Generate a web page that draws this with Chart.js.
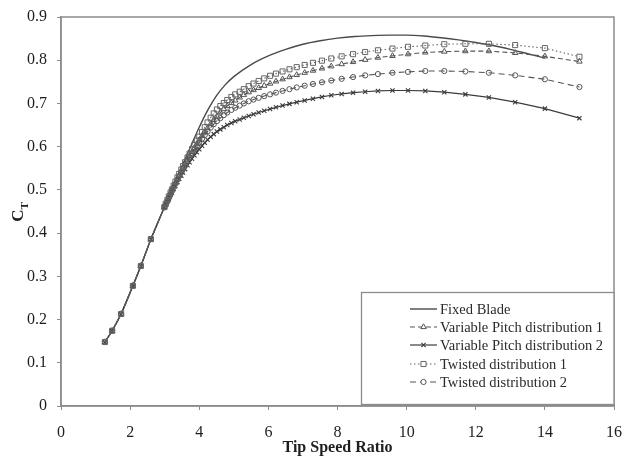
<!DOCTYPE html>
<html>
<head>
<meta charset="utf-8">
<script src="https://cdn.jsdelivr.net/npm/chart.js@4.4.1/dist/chart.umd.min.js"></script>
<style>
  html, body { margin: 0; padding: 0; background: #fff; }
  #wrap { position: relative; width: 627px; height: 456px; }
</style>
</head>
<body>
<div id="wrap"><canvas id="ctChart" width="627" height="456"></canvas></div>
<script>
// ===== DATA =====
// low tip speed ratios: every blade gives the same thrust there
const lowTsr = [1.27, 1.48, 1.74, 2.08, 2.31, 2.60, 2.99];
const lowCt = [0.148, 0.174, 0.213, 0.278, 0.324, 0.386, 0.460];

// fixed blade (plain line, no markers)
const fixedTsr = [3.25, 3.5, 3.75, 4.0, 4.25, 4.5, 4.75, 5.0, 5.5, 6.0, 6.5, 7.0, 7.5, 8.0,
  8.5, 9.0, 9.5, 10.0, 10.5, 11.0, 11.5, 12.0, 12.5, 13.0, 13.5, 14.0];
const fixedCt = [0.510, 0.555, 0.600, 0.645, 0.685, 0.718, 0.743, 0.762, 0.790, 0.810, 0.825,
  0.837, 0.845, 0.851, 0.855, 0.857, 0.858, 0.858, 0.856, 0.852, 0.847, 0.841, 0.834, 0.825,
  0.815, 0.805];

// tip speed ratios of the marked points above 3
const tsr = [3.03, 3.08, 3.12, 3.17, 3.21, 3.26, 3.31, 3.37, 3.42, 3.48, 3.53, 3.59, 3.66, 3.72,
  3.79, 3.86, 3.93, 4.00, 4.08, 4.16, 4.24, 4.33, 4.42, 4.51, 4.61, 4.71, 4.81, 4.93, 5.04,
  5.17, 5.29, 5.43, 5.57, 5.72, 5.88, 6.05, 6.22, 6.41, 6.61, 6.82, 7.05, 7.29, 7.55, 7.82,
  8.12, 8.45, 8.80, 9.17, 9.59, 10.04, 10.54, 11.09, 11.70, 12.38, 13.14, 14.00, 15.00];

const ctVarPitch1 = [0.467, 0.476, 0.483, 0.492, 0.499, 0.508, 0.516, 0.526, 0.534, 0.543,
  0.551, 0.560, 0.570, 0.578, 0.588, 0.597, 0.606, 0.615, 0.625, 0.634, 0.643, 0.653, 0.662,
  0.670, 0.679, 0.687, 0.694, 0.701, 0.707, 0.714, 0.720, 0.726, 0.731, 0.736, 0.741, 0.746,
  0.751, 0.756, 0.761, 0.766, 0.771, 0.776, 0.781, 0.786, 0.791, 0.796, 0.801, 0.806, 0.810,
  0.814, 0.818, 0.820, 0.821, 0.821, 0.817, 0.809, 0.797];

const ctVarPitch2 = [0.465, 0.473, 0.480, 0.488, 0.494, 0.502, 0.509, 0.518, 0.525, 0.533,
  0.540, 0.548, 0.557, 0.564, 0.572, 0.580, 0.587, 0.594, 0.602, 0.609, 0.616, 0.623, 0.629,
  0.635, 0.640, 0.645, 0.650, 0.655, 0.659, 0.663, 0.667, 0.671, 0.675, 0.679, 0.683, 0.687,
  0.691, 0.695, 0.699, 0.703, 0.707, 0.711, 0.715, 0.719, 0.722, 0.725, 0.727, 0.729, 0.730,
  0.730, 0.729, 0.726, 0.721, 0.714, 0.703, 0.688, 0.666];

const ctTwisted1 = [0.468, 0.477, 0.485, 0.494, 0.501, 0.510, 0.519, 0.529, 0.537, 0.547,
  0.555, 0.564, 0.575, 0.584, 0.594, 0.604, 0.614, 0.623, 0.634, 0.645, 0.656, 0.667, 0.677,
  0.686, 0.694, 0.701, 0.708, 0.715, 0.721, 0.727, 0.733, 0.740, 0.746, 0.752, 0.758, 0.764,
  0.769, 0.774, 0.779, 0.784, 0.789, 0.794, 0.799, 0.804, 0.809, 0.814, 0.819, 0.823, 0.827,
  0.831, 0.834, 0.837, 0.838, 0.838, 0.835, 0.828, 0.808];

const ctTwisted2 = [0.466, 0.475, 0.482, 0.491, 0.498, 0.506, 0.514, 0.524, 0.532, 0.541,
  0.549, 0.557, 0.567, 0.575, 0.584, 0.593, 0.601, 0.609, 0.618, 0.627, 0.635, 0.644, 0.652,
  0.659, 0.666, 0.673, 0.679, 0.685, 0.690, 0.695, 0.700, 0.705, 0.709, 0.713, 0.717, 0.721,
  0.725, 0.729, 0.733, 0.737, 0.741, 0.745, 0.749, 0.753, 0.757, 0.761, 0.765, 0.768, 0.771,
  0.773, 0.775, 0.775, 0.774, 0.771, 0.765, 0.756, 0.738];

const xTicks = [0, 2, 4, 6, 8, 10, 12, 14, 16];
const yTicks = [0, 0.1, 0.2, 0.3, 0.4, 0.5, 0.6, 0.7, 0.8, 0.9];

const serif = "'Liberation Serif', 'Times New Roman', serif";

function toPoints(xs, ys) {
  return xs.map((x, i) => ({ x: x, y: ys[i] }));
}

function withLow(ys) {
  return toPoints(lowTsr.concat(tsr), lowCt.concat(ys));
}

// ===== PLUGIN: frame, axis titles, boxed legend =====
const framePlugin = {
  id: 'frameLegend',
  afterDatasetsDraw(chart) {
    const { ctx, chartArea: a } = chart;
    ctx.save();

    // frame round the plot
    ctx.setLineDash([]);
    ctx.strokeStyle = '#8c8c8c';
    ctx.lineWidth = 1.5;
    ctx.strokeRect(a.left, a.top, a.right - a.left, a.bottom - a.top);

    // x title
    ctx.fillStyle = '#1e1e1e';
    ctx.font = 'bold 16px ' + serif;
    ctx.textAlign = 'center';
    ctx.textBaseline = 'middle';
    ctx.fillText('Tip Speed Ratio', (a.left + a.right) / 2, 448);

    // y title C with subscript T
    ctx.save();
    ctx.translate(19, 212);
    ctx.rotate(-Math.PI / 2);
    ctx.font = 'bold 17px ' + serif;
    const cw = ctx.measureText('C').width;
    ctx.font = 'bold 11px ' + serif;
    const tw = ctx.measureText('T').width;
    const x0 = -(cw + tw) / 2;
    ctx.textAlign = 'left';
    ctx.font = 'bold 17px ' + serif;
    ctx.fillText('C', x0, 0);
    ctx.font = 'bold 11px ' + serif;
    ctx.fillText('T', x0 + cw, 6);
    ctx.restore();

    // legend box
    const box = { left: 361, top: 292, right: a.right, bottom: 404 };
    ctx.fillStyle = '#fff';
    ctx.fillRect(box.left, box.top, box.right - box.left, box.bottom - box.top);
    ctx.strokeStyle = '#8c8c8c';
    ctx.lineWidth = 1.3;
    ctx.strokeRect(box.left + 0.5, box.top + 0.5, box.right - box.left - 0.5, box.bottom - box.top);

    const rowY = [309, 327, 345, 364, 382];
    chart.data.datasets.forEach((ds, i) => {
      const y = rowY[i];
      ctx.strokeStyle = ds.borderColor;
      ctx.lineWidth = ds.borderWidth;
      ctx.setLineDash(ds.borderDash || []);
      ctx.beginPath();
      ctx.moveTo(410, y);
      ctx.lineTo(437, y);
      ctx.stroke();
      ctx.setLineDash([]);
      if (ds.pointRadius > 0 && Chart.helpers && Chart.helpers.drawPoint) {
        ctx.fillStyle = '#fff';
        ctx.strokeStyle = ds.pointBorderColor;
        ctx.lineWidth = ds.pointBorderWidth;
        Chart.helpers.drawPoint(ctx, {
          pointStyle: ds.pointStyle,
          radius: ds.pointRadius,
          rotation: 0,
          borderWidth: ds.pointBorderWidth
        }, 423.5, y);
      }
      ctx.fillStyle = '#2a2a2a';
      ctx.font = '14.5px ' + serif;
      ctx.textAlign = 'left';
      ctx.textBaseline = 'middle';
      ctx.fillText(ds.label, 440, y + 1);
    });

    ctx.restore();
  }
};

// ===== CHART =====
const ctx = document.getElementById('ctChart').getContext('2d');

new Chart(ctx, {
  type: 'line',
  data: {
    datasets: [
      {
        label: 'Fixed Blade',
        data: toPoints(lowTsr.concat(fixedTsr), lowCt.concat(fixedCt)),
        borderColor: '#4a4a4a',
        borderWidth: 1.4,
        pointRadius: 0,
        cubicInterpolationMode: 'monotone',
        order: 5
      },
      {
        label: 'Variable Pitch distribution 1',
        data: withLow(ctVarPitch1),
        borderColor: '#555',
        borderWidth: 1.1,
        borderDash: [5, 3],
        pointStyle: 'triangle',
        pointRadius: 3.2,
        pointBorderWidth: 1,
        pointBorderColor: '#555',
        pointBackgroundColor: 'rgba(255,255,255,0)',
        order: 2
      },
      {
        label: 'Variable Pitch distribution 2',
        data: withLow(ctVarPitch2),
        borderColor: '#3c3c3c',
        borderWidth: 1.2,
        pointStyle: 'crossRot',
        pointRadius: 3,
        pointBorderWidth: 1.1,
        pointBorderColor: '#3c3c3c',
        pointBackgroundColor: 'rgba(255,255,255,0)',
        order: 4
      },
      {
        label: 'Twisted distribution 1',
        data: withLow(ctTwisted1),
        borderColor: '#666',
        borderWidth: 1.1,
        borderDash: [1.5, 2.5],
        pointStyle: 'rect',
        pointRadius: 3.6,
        pointBorderWidth: 1,
        pointBorderColor: '#666',
        pointBackgroundColor: 'rgba(255,255,255,0)',
        order: 1
      },
      {
        label: 'Twisted distribution 2',
        data: withLow(ctTwisted2),
        borderColor: '#555',
        borderWidth: 1.1,
        borderDash: [6, 4],
        pointStyle: 'circle',
        pointRadius: 2.6,
        pointBorderWidth: 1,
        pointBorderColor: '#555',
        pointBackgroundColor: 'rgba(255,255,255,0)',
        order: 3
      }
    ]
  },
  options: {
    responsive: false,
    animation: false,
    devicePixelRatio: 1,
    layout: { padding: { top: 17, right: 13, left: 0, bottom: 0 } },
    plugins: {
      legend: { display: false },
      tooltip: { enabled: false }
    },
    scales: {
      x: {
        type: 'linear',
        min: 0,
        max: 16,
        afterFit: (s) => {
          s.height = 50;
          s.paddingLeft = 0;
          s.paddingRight = 0;
        },
        afterBuildTicks: (s) => { s.ticks = xTicks.map(v => ({ value: v })); },
        ticks: {
          color: '#1e1e1e',
          font: { family: serif, size: 16 },
          padding: 13,
          maxRotation: 0
        },
        grid: { drawOnChartArea: false, drawTicks: true, tickLength: 4, color: '#8c8c8c' },
        border: { color: '#8c8c8c', width: 1.5 }
      },
      y: {
        type: 'linear',
        min: 0,
        max: 0.9,
        afterFit: (s) => {
          s.width = 61;
          s.paddingTop = 0;
          s.paddingBottom = 0;
        },
        afterBuildTicks: (s) => { s.ticks = yTicks.map(v => ({ value: v })); },
        ticks: {
          color: '#1e1e1e',
          font: { family: serif, size: 16 },
          padding: 10,
          callback: (v) => (v === 0 ? '0' : v.toFixed(1))
        },
        grid: { drawOnChartArea: false, drawTicks: true, tickLength: 4, color: '#8c8c8c' },
        border: { color: '#8c8c8c', width: 1.5 }
      }
    }
  },
  plugins: [framePlugin]
});
</script>
</body>
</html>
